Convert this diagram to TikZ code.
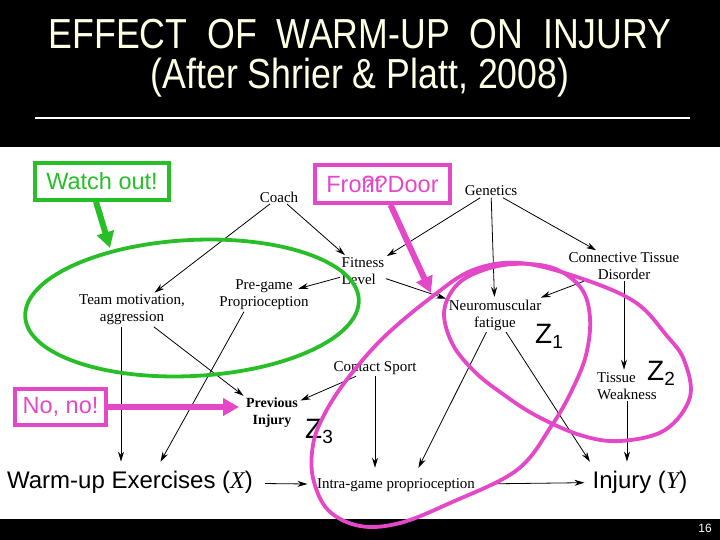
\documentclass[tikz,border=0pt]{standalone}
\usepackage{fontspec}
\setmainfont{Liberation Serif}
\newfontfamily\arialfont{Liberation Sans}
\usetikzlibrary{arrows.meta}
\definecolor{notegreen}{RGB}{40,190,40}
\definecolor{notepink}{RGB}{228,72,200}
\definecolor{titlecream}{RGB}{255,255,228}
\tikzset{
    cause/.style={align=center, inner sep=1.5pt, font=\fontsize{15}{17}\selectfont},
    big/.style={inner sep=2pt, font=\arialfont\fontsize{24}{28}\selectfont},
    zlab/.style={inner sep=0pt, font=\arialfont\fontsize{28}{30}\selectfont},
    arrow/.style={-{Stealth[length=10pt,width=6pt]}, line width=0.8pt, shorten >=1pt},
    notebox/.style={rectangle, draw=#1, text=#1, line width=3.5pt, inner sep=2pt,
        font=\arialfont\fontsize{23.5}{26}\selectfont},
    fatarrow/.style={draw=#1, line width=6pt, -{Triangle[length=16pt,width=17pt]}},
    ring/.style={draw=#1, line width=3.8pt}
}
\newcommand{\zsub}[1]{\raisebox{-5pt}{\fontsize{19}{20}\selectfont #1}}

\begin{document}
\begin{tikzpicture}[x=1pt,y=-1pt]
    \useasboundingbox (0,0) rectangle (720,540);
    \fill[white] (0,0) rectangle (720,540);
    \fill[black] (0,0) rectangle (720,147);
    \fill[black] (0,519) rectangle (720,540);

    % title
    \node[text=titlecream, font=\arialfont\fontsize{42}{46}\selectfont] (title) at (360,34)
        {\scalebox{0.85}[1]{EFFECT\ \ OF\ \ WARM-UP\ \ ON\ \ INJURY}};
    \node[text=titlecream, font=\arialfont\fontsize{42}{46}\selectfont] (source) at (360,78)
        {\scalebox{0.85}[1]{(After Shrier \& Platt, 2008)}};
    \draw[white, line width=1.5pt] (35,118) -- (690,118);

    % causal graph
    \node[cause] (coach) at (279,197) {Coach};
    \node[cause] (genetics) at (491,191) {Genetics};
    \node[cause, align=left] (fitness) at (363,271) {Fitness\\Level};
    \node[cause] (ctd) at (624,266) {Connective Tissue\\Disorder};
    \node[cause] (team) at (132,310) {Team motivation,\\aggression};
    \node[cause] (pregame) at (264,295) {Pre-game\\Proprioception};
    \node[cause] (neuro) at (495,315) {Neuromuscular\\fatigue};
    \node[cause] (contact) at (375,368) {Contact Sport};
    \node[cause, align=left] (weak) at (627,386) {Tissue\\Weakness};
    \node[cause, font=\bfseries\fontsize{14}{17}\selectfont] (prev) at (272,413) {Previous\\Injury};
    \node[big] (warmup) at (130,482) {Warm-up Exercises ({\rmfamily\itshape X})};
    \node[cause] (intra) at (396,485) {Intra-game proprioception};
    \node[big] (injury) at (640,482) {Injury ({\rmfamily\itshape Y})};

    \node[zlab] (z1) at (549,336) {Z\zsub{1}};
    \node[zlab] (z2) at (661,373) {Z\zsub{2}};
    \node[zlab] (z3) at (319,431) {Z\zsub{3}};

    \path (coach) edge [arrow] (team)
        (coach) edge [arrow] (fitness)
        (genetics) edge [arrow] (fitness)
        (genetics) edge [arrow] (neuro)
        (genetics) edge [arrow] (ctd)
        (fitness) edge [arrow] ([xshift=-13pt,yshift=6pt]pregame.east)
        (fitness) edge [arrow] (neuro)
        (ctd) edge [arrow] (neuro)
        (ctd) edge [arrow] (ctd |- weak.north)
        ([xshift=-11pt]team.south) edge [arrow] ([xshift=-9pt,yshift=6pt]warmup.north)
        (team) edge [arrow] (prev.north west)
        ([xshift=-20pt]pregame.south) edge [arrow] ([xshift=30pt,yshift=6pt]warmup.north)
        (neuro) edge [arrow] ([xshift=22pt,yshift=8pt]intra.north)
        (neuro) edge [arrow] ([yshift=6pt]injury.north west)
        (contact) edge [arrow] (prev)
        (contact) edge [arrow] ([yshift=8pt]contact |- intra.north)
        (weak) edge [arrow] ([yshift=6pt]weak |- injury.north)
        (warmup) edge [arrow, shorten <=10pt, shorten >=8pt] (intra)
        (intra) edge [arrow, shorten <=14pt, shorten >=6pt] (injury);

    % circled groups
    \draw[ring=notegreen, rotate around={3:(192,308)}] (192,308) ellipse [x radius=167pt, y radius=68pt];
    \draw[ring=notepink] plot[smooth cycle, tension=0.6] coordinates {
        (360,526) (400,523) (450,503) (517,470) (552,425) (572,390) (586,355)
        (590,318) (581,288) (553,268) (513,264) (478,272) (455,287) (444,313)
        (453,345) (475,372) (500,392) (535,415) (580,435) (620,441) (665,430)
        (690,397) (684,360) (667,336) (635,302) (580,278) (520,263) (473,270)
        (433,296) (383,338) (345,382) (323,417) (313,445) (313,478) (328,510)};

    % notes
    \node[notebox=notegreen, minimum width=134pt, minimum height=37pt] (watch) at (102,181.5) {Watch out!};
    \node[notebox=notepink, minimum width=135pt, minimum height=38pt] (front) at (382.5,184) {Fro\rlap{??}nt Door};
    \node[notebox=notepink, minimum width=91pt, minimum height=36pt] (nono) at (60.5,407) {No, no!};
    \coordinate (watchtip) at (110,248);
    \coordinate (fronttip) at (431,293);
    \coordinate (nonotip) at (239,407);
    \draw[fatarrow=notegreen] ([xshift=-6pt]watch.south) -- (watchtip);
    \draw[fatarrow=notepink] ([xshift=8pt]front.south) -- (fronttip);
    \draw[fatarrow=notepink] (nono.east) -- (nonotip);

    \node[text=white, font=\arialfont\fontsize{12}{14}\selectfont] (page) at (705,528) {16};
\end{tikzpicture}
\end{document}
